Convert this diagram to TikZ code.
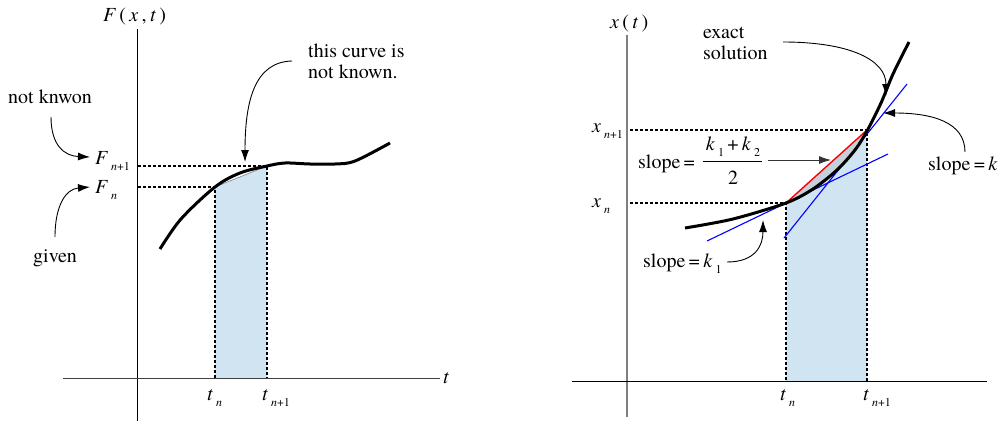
\documentclass[tikz,border=0pt]{standalone}
\usepackage{fontspec}
\setmainfont{TeX Gyre Termes}
\usetikzlibrary{arrows.meta}
\definecolor{areablue}{HTML}{D0E4F2}
\definecolor{gapgray}{HTML}{C6D0DA}
\definecolor{axisgray}{HTML}{808080}
\newcommand\sbx[1]{\hspace{3pt}\raisebox{-6pt}{\fontsize{12}{12}\selectfont #1}}
\tikzset{
  lbl/.style={font=\rmfamily\fontsize{20}{22}\selectfont, inner sep=0pt},
  axisline/.style={line width=0.9pt},
  guide/.style={dash pattern=on 3pt off 2pt, line width=1.1pt},
  curve/.style={line width=3pt},
  callout/.style={line width=0.9pt, -{Latex[length=12pt,width=8pt]}},
  tanline/.style={blue, line width=1.1pt},
}
\begin{document}
\begin{tikzpicture}[x=1pt,y=-1pt]
\useasboundingbox (0,0) rectangle (998,423);
% ---------------- LEFT PANEL ----------------
\coordinate (La) at (215,187);
\coordinate (Lb) at (267,166);
\coordinate (La0) at (215,378);
\coordinate (Lb0) at (267,378);
\fill[areablue] (La) -- (Lb) -- (Lb0) -- (La0) -- cycle;
\draw[gray, line width=0.6pt] (La) -- (Lb);
\draw[guide] (138,187) -- (La) -- (La0);
\draw[guide] (138,166) -- (Lb) -- (Lb0);
\coordinate (LyT) at (137,29);
\coordinate (LyB) at (137,421);
\coordinate (LxL) at (63,378);
\coordinate (LxR) at (440,378);
\draw[axisline] (LyT) -- (LyB);
\draw[axisline, black!75] (LxL) -- (LxR);
\draw[curve] plot[smooth, tension=0.55] coordinates {(160,249) (181,219) (215,187) (240,173) (267,166) (285,163) (310,164) (335,164) (355,161) (390,143)};
% labels
\node[lbl, anchor=base west] (Flab) at (103,21) {\textit{F}\,(\,\textit{x}\,,\,\textit{t}\,)};
\node[lbl, anchor=base west] (taxL) at (443,383) {\textit{t}};
\node[lbl, anchor=base west] (Fn1) at (95,164) {\textit{F}\sbx{\textit{n}+1}};
\node[lbl, anchor=base west] (Fn) at (95,193) {\textit{F}\sbx{\textit{n}}};
\node[lbl, anchor=base west] (tnL) at (207,400) {\textit{t}\sbx{\textit{n}}};
\node[lbl, anchor=base west] (tn1L) at (262,400) {\textit{t}\sbx{\textit{n}+1}};
\node[lbl, anchor=base west] (notk) at (8,103) {not knwon};
\node[lbl, anchor=base west] (given) at (33,262) {given};
\node[lbl, anchor=base west] (curvetxt) at (308,57) {this curve is};
\node[lbl, anchor=base west] (curvetxt2) at (308,78) {not known.};
\coordinate (notkS) at (51,117);
\coordinate (notkE) at (90,157);
\coordinate (givenS) at (55,237);
\coordinate (givenE) at (90,187);
\coordinate (curveS) at (292,61);
\coordinate (curveE) at (245,162);
\draw[callout] (notkS) .. controls (51,146) and (65,156) .. (notkE);
\draw[callout] (givenS) .. controls (55,205) and (66,189) .. (givenE);
\draw[callout] (curveS) .. controls (255,62) and (245,100) .. (curveE);
% ---------------- RIGHT PANEL ----------------
\coordinate (Ra) at (786,203);
\coordinate (Rb) at (867,130);
\coordinate (Ra0) at (786,381);
\coordinate (Rb0) at (867,381);
\fill[areablue] (Ra) -- (Rb) -- (Rb0) -- (Ra0) -- cycle;
\fill[gapgray] (Ra) -- (Rb) -- plot[smooth, tension=0.5] coordinates {(867,131) (857,148) (837,169) (813,189) (786,203)} -- cycle;
\draw[guide] (630,203) -- (Ra) -- (Ra0);
\draw[guide] (630,130) -- (Rb) -- (Rb0);
\coordinate (RyT) at (627,35);
\coordinate (RyB) at (627,417);
\coordinate (RxL) at (572,381);
\coordinate (RxR) at (987,381);
\draw[axisline, axisgray, line width=1.2pt] (RyT) -- (RyB);
\draw[axisline] (RxL) -- (RxR);
\coordinate (t1a) at (707,241);
\coordinate (t1b) at (888,154);
\coordinate (t2a) at (784,238);
\coordinate (t2b) at (907,84);
\draw[tanline] (t1a) -- (t1b);
\draw[tanline] (t2a) -- (t2b);
\draw[red, line width=1.4pt] (Ra) -- (Rb);
\draw[curve] plot[smooth, tension=0.5] coordinates {(685,228) (733,219) (786,203) (813,189) (837,170) (855,150) (867,131) (881,103) (893,74) (909,42)};
% labels
\node[lbl, anchor=base west] (xlab) at (610,28) {\textit{x}\,(\,\textit{t}\,)};
\node[lbl, anchor=base west] (xn1) at (592,132) {\textit{x}\sbx{\textit{n}+1}};
\node[lbl, anchor=base west] (xn) at (592,207) {\textit{x}\sbx{\textit{n}}};
\node[lbl, anchor=base west] (tnR) at (780,400) {\textit{t}\sbx{\textit{n}}};
\node[lbl, anchor=base west] (tn1R) at (863,400) {\textit{t}\sbx{\textit{n}+1}};
\node[lbl, anchor=base west] (exact) at (703,38) {exact};
\node[lbl, anchor=base west] (solution) at (703,59) {solution};
\node[lbl, anchor=base west] (slk) at (928,170) {slope\,=\,\textit{k}};
\node[lbl, anchor=base west] (slk1) at (643,267) {slope\,=\,\textit{k}\sbx{1}};
\node[lbl, anchor=base west] (slavg) at (638,168) {slope\,=};
\node[lbl, anchor=base] (num) at (733,150) {\textit{k}\sbx{1}\,+\,\textit{k}\sbx{2}};
\node[lbl, anchor=base] (den) at (733,184) {2};
\coordinate (barL) at (703,161);
\coordinate (barR) at (762,161);
\draw[line width=1pt] (barL) -- (barR);
\coordinate (exS) at (783,42);
\coordinate (exE) at (886,96);
\coordinate (skS) at (965,152);
\coordinate (skE) at (883,113);
\coordinate (avS) at (768,160);
\coordinate (avE) at (831,160);
\coordinate (sk1S) at (727,262);
\coordinate (sk1E) at (763,220);
\draw[callout] (exS) .. controls (850,42) and (886,60) .. (exE);
\draw[callout] (skS) .. controls (965,122) and (932,113) .. (skE);
\draw[callout, black!80] (avS) -- (avE);
\draw[callout] (sk1S) .. controls (755,262) and (763,246) .. (sk1E);
\end{tikzpicture}
\end{document}
